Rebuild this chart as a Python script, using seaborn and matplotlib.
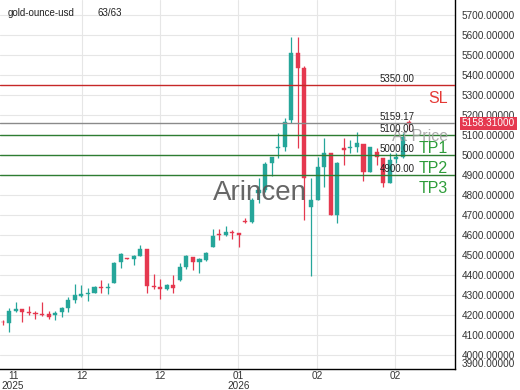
import matplotlib
matplotlib.use("Agg")
import matplotlib.pyplot as plt
import numpy as np
import pandas as pd
import seaborn as sns

# ---- data ----
opens = [4167, 4162, 4222, 4228, 4217, 4212, 4205, 4205, 4199, 4217,
         4234, 4275, 4297, 4305, 4312, 4342, 4337, 4362, 4467, 4484,
         4480, 4497, 4529, 4342, 4342, 4330, 4349, 4375, 4442, 4492,
         4465, 4475, 4542, 4605, 4600, 4617, 4612, 4672, 4665, 4810,
         4825, 4959, 5037, 5042, 5175, 5509, 5434, 4742, 4775, 4942,
         5009, 4700, 5034, 5034, 5042, 5055, 4917, 5017, 4984, 4859,
         4979, 4992, 5165]
highs = [4175, 4235, 4267, 4230, 4245, 4220, 4264, 4220, 4222, 4242,
         4292, 4354, 4350, 4337, 4347, 4375, 4360, 4467, 4512, 4486,
         4500, 4550, 4530, 4404, 4379, 4355, 4400, 4459, 4500, 4492,
         4484, 4517, 4629, 4629, 4645, 4625, 4612, 4684, 4785, 4885,
         4967, 4988, 5109, 5184, 5592, 5592, 5445, 4884, 4992, 5084,
         5009, 4967, 5084, 5075, 5117, 5055, 5039, 5034, 4984, 5009,
         5009, 5109, 5175]
lows = [4150, 4115, 4217, 4167, 4200, 4179, 4197, 4179, 4175, 4189,
        4217, 4262, 4292, 4270, 4309, 4309, 4305, 4359, 4434, 4478,
        4450, 4495, 4312, 4329, 4279, 4325, 4309, 4372, 4429, 4425,
        4412, 4472, 4539, 4575, 4595, 4580, 4539, 4659, 4659, 4760,
        4817, 4895, 4984, 5022, 5159, 5034, 4675, 4395, 4775, 4842,
        4700, 4659, 4950, 5009, 5017, 4872, 4917, 4950, 4839, 4859,
        4959, 4984, 5125]
closes = [4163, 4220, 4228, 4217, 4209, 4205, 4199, 4192, 4212, 4234,
          4275, 4300, 4305, 4312, 4342, 4334, 4342, 4462, 4505, 4480,
          4497, 4530, 4345, 4339, 4330, 4350, 4334, 4439, 4495, 4464,
          4479, 4512, 4595, 4599, 4617, 4612, 4600, 4667, 4773, 4825,
          4955, 4988, 5042, 5167, 5509, 5435, 4884, 4775, 4942, 5009,
          4700, 4962, 5025, 5042, 5059, 4917, 5039, 4989, 4859, 4975,
          4989, 5092, 5158.31]

x_tick_pos = [1.6, 12.1, 24.0, 35.9, 47.9, 59.8]
x_tick_labels = ["11\n2025", "12", "12", "01\n2026", "02", "02"]
y_ticks = list(range(4000, 5800, 100))

level_values = [5350, 5159.17, 5100, 5000, 4900]
level_texts = ["5350.00", "5159.17", "5100.00", "5000.00", "4900.00"]
level_names = ["SL", "At Price", "TP1", "TP2", "TP3"]
last_price = 5158.31
symbol = "gold-ounce-usd"
counter = "63/63"

# ---- style ----
sns.set_theme(style="white")
plt.rcParams["font.family"] = ["Liberation Sans", "DejaVu Sans"]

UP = "#26a69a"
DOWN = "#e5384f"

df = pd.DataFrame({"open": opens, "high": highs, "low": lows, "close": closes})
df["idx"] = np.arange(len(df))
df["up"] = df["close"] >= df["open"]
df["bottom"] = df[["open", "close"]].min(axis=1)
df["height"] = (df["close"] - df["open"]).abs().clip(lower=4)
df["color"] = np.where(df["up"], UP, DOWN)

fig = plt.figure(figsize=(5.2, 3.9), dpi=100)
ax = fig.add_axes([0.0, 21 / 390, 455 / 520, 369 / 390])

# grid
for y in y_ticks:
    ax.axhline(y, color="#e6e6e6", lw=0.8, zorder=0)
for xp in x_tick_pos[1:]:
    ax.axvline(xp, color="#e6e6e6", lw=0.8, zorder=0)

# candles
ax.vlines(df["idx"], df["low"], df["high"], colors=df["color"], lw=0.9, zorder=2)
ax.bar(df["idx"], df["height"], bottom=df["bottom"], width=0.62,
       color=df["color"], edgecolor=df["color"], lw=0.3, zorder=3)

# level lines
line_colors = ["#c62828", "#8a8a8a", "#2e7d32", "#2e7d32", "#2e7d32"]
name_colors = ["#e53935", "#9e9e9e", "#2e9d3a", "#2e9d3a", "#2e9d3a"]
for val, txt, name, lc, nc in zip(level_values, level_texts, level_names,
                                  line_colors, name_colors):
    ax.axhline(val, color=lc, lw=1.0, zorder=4)
    ax.annotate(txt, xy=(380 / 455, val), xycoords=("axes fraction", "data"),
                xytext=(0, 4.6), textcoords="offset points",
                ha="left", va="center", fontsize=7, color="#222222", zorder=6)
    ax.annotate(name, xy=(448 / 455, val), xycoords=("axes fraction", "data"),
                xytext=(0, -9.8), textcoords="offset points",
                ha="right", va="center", fontsize=11.5, color=nc,
                alpha=0.85 if name == "At Price" else 1.0, zorder=6)

# watermark
ax.text(260 / 455, (369 - 193) / 369, "Arincen", transform=ax.transAxes,
        ha="center", va="center", fontsize=20, color="#555555", alpha=0.9,
        zorder=5)

ax.set_xlim(-0.41, 68.95)
ax.set_ylim(3930, 5775)

ax.yaxis.tick_right()
ax.set_yticks(y_ticks)
ax.set_yticklabels([f"{v:.5f}" for v in y_ticks])
ax.tick_params(axis="y", length=0, pad=5, labelsize=7.2, labelcolor="#333333")
ax.set_xticks(x_tick_pos)
ax.set_xticklabels(x_tick_labels)
ax.tick_params(axis="x", length=0, pad=1.5, labelsize=7.2, labelcolor="#333333")
for lab in ax.get_xticklabels():
    lab.set_linespacing(0.95)

# clipped extreme labels
for v, txt in [(3955, "3900.00000"), (5790, "5800.00000")]:
    ax.annotate(txt, xy=(1.0, v), xycoords=("axes fraction", "data"),
                xytext=(5, 0), textcoords="offset points", ha="left",
                va="center", fontsize=7.2, color="#333333", annotation_clip=False)

# last price tag
ax.annotate(f"{last_price:.5f}", xy=(1.0, last_price),
            xycoords=("axes fraction", "data"), xytext=(5, 0),
            textcoords="offset points", ha="left", va="center", fontsize=7.2,
            color="white", annotation_clip=False, zorder=10,
            bbox=dict(boxstyle="square,pad=0.15", fc=DOWN, ec="none"))

for side in ["left", "top"]:
    ax.spines[side].set_visible(False)
for side in ["right", "bottom"]:
    ax.spines[side].set_visible(True)
    ax.spines[side].set_color("black")
    ax.spines[side].set_linewidth(1.0)

fig.text(8 / 520, 1 - 12.7 / 390, symbol, ha="left", va="center",
         fontsize=7, color="#222222")
fig.text(97 / 520, 1 - 12.7 / 390, counter, ha="left", va="center",
         fontsize=7, color="#222222")

fig.savefig("out.png", dpi=100)
